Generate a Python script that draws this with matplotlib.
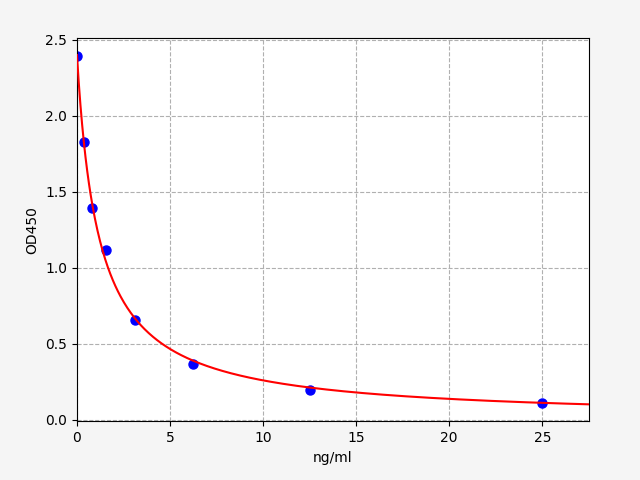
import numpy as np
import matplotlib
matplotlib.use("Agg")
import matplotlib.pyplot as plt

conc = [0, 0.39, 0.78, 1.56, 3.125, 6.25, 12.5, 25]
od = [2.395, 1.83, 1.395, 1.12, 0.66, 0.37, 0.20, 0.11]

# 4PL fit parameters (top, bottom, EC50, slope)
top, bottom, ec50, slope = 2.40, 0.0, 1.19, 0.99

fig = plt.figure(figsize=(6.4, 4.8), dpi=100, facecolor="#f5f5f5")
ax = fig.add_axes([0.1203, 0.122, 0.7997, 0.798])
xs = np.linspace(0, 27.5, 600)
ys = bottom + (top - bottom) / (1 + (xs / ec50) ** slope)
ax.plot(conc, od, "o", color="blue", markersize=6.5, zorder=2)
ax.plot(xs, ys, color="red", linewidth=1.5, zorder=3)
ax.set_xlim(0, 27.5)
ax.set_ylim(-0.01, 2.51)
ax.set_xlabel("ng/ml")
ax.set_ylabel("OD450")
ax.grid(True, linestyle="--", color="#b0b0b0", linewidth=0.8)
fig.savefig("out.png", dpi=100, facecolor=fig.get_facecolor())
